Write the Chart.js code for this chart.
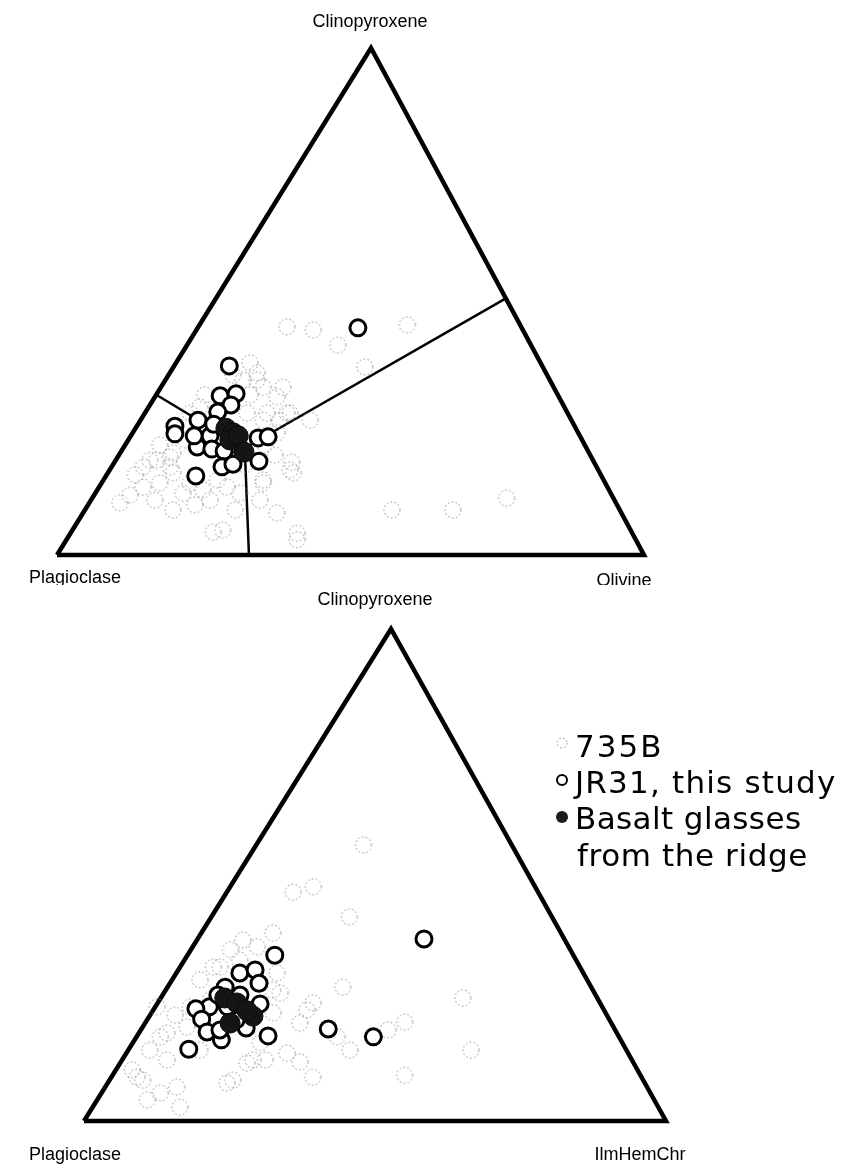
<!DOCTYPE html>
<html><head><meta charset="utf-8">
<script src="https://cdn.jsdelivr.net/npm/chart.js@4.4.0/dist/chart.umd.min.js"></script>
<style>
html,body{margin:0;padding:0;background:#fff;}
#wrap{position:relative;width:855px;height:1170px;overflow:hidden;}
.pane{position:absolute;left:0;width:855px;height:585px;}
</style></head><body>
<div id="wrap">
<div class="pane" style="top:0"><canvas id="cTop" width="855" height="585"></canvas></div>
<div class="pane" style="top:585px"><canvas id="cBot" width="855" height="585"></canvas></div>
</div>
<script>
// ---- Data: compositions as [Clinopyroxene %, third-apex %]; Plagioclase = remainder ----
const topVertexLabels = ["Plagioclase", "Olivine", "Clinopyroxene"];
const botVertexLabels = ["Plagioclase", "IlmHemChr", "Clinopyroxene"];
const legendLabels = ["735B", "JR31, this study", "Basalt glasses", "from the ridge"];

// top diagram: Plag - Ol - Cpx
const top735B = [[45.0,15.1],[44.4,19.9],[41.4,25.7],[45.4,35.4],[37.1,32.6],[35.9,14.9],[33.1,20.8],[33.1,17.4],[28.0,24.2],[26.6,28.9],
 [18.3,30.2],[16.2,31.6],[14.8,27.2],[8.3,33.0],[8.9,52.3],[8.9,62.7],[11.2,70.6],[4.3,38.6],[10.8,28.8],[10.3,5.2],
 [17.4,5.4],[18.7,7.0],[19.3,8.9],[13.4,7.5],[14.2,9.9],[12.2,14.9],[16.2,11.1],[14.2,15.1],[12.8,18.0],[14.8,19.4],
 [13.4,21.8],[12.2,24.6],[14.2,27.5],[4.9,25.6],[4.5,24.2],[8.9,15.0],[16.8,30.7],[3.0,39.3],[28.0,17.4],[26.6,20.9],
 [28.0,24.7],[24.1,24.6],[20.1,9.0],[37.9,12.6],[34.5,15.6],[31.2,20.8],[28.0,20.8],[28.0,7.7],[29.2,8.7],[34.5,13.2],
 [18.7,5.8],[17.4,10.0],[26.6,23.7],[35.5,11.0],[31.6,8.3],[22.7,9.7],[21.7,5.9],[15.8,4.9],[11.8,6.1],[10.8,10.9],
 [9.9,18.2],[17.8,22.5],[19.7,26.6],[31.6,16.0],[21.7,23.8],[10.8,20.3],[8.9,25.6]];
const topJR31 = [[37.3,9.4],[31.4,11.0],[31.8,13.5],[29.6,13.8],[28.2,12.3],[26.6,9.8],[25.4,6.5],[23.9,7.3],[23.5,13.5],[21.3,12.5],
 [20.9,15.2],[20.5,17.5],[23.1,21.9],[23.3,23.5],[18.5,24.5],[17.4,18.8],[17.9,20.4],[15.6,15.3],[44.8,27.3],[23.5,10.8],
 [25.8,12.9],[20.3,20.8]];
const topBasalt = [[25.0,15.4],[24.1,17.1],[22.7,17.3],[23.5,18.3],[20.3,21.0]];
// cotectic boundaries: junction -> edge points
const topJunction = [21.1,20.7];
const topBoundaryEnds = [[31.6,0.0],[50.6,49.4],[0.0,32.7]];

// bottom diagram: Plag - IlmHemChr - Cpx
const bot735B = [[56.1,18.4],[46.5,11.4],[47.6,14.3],[41.5,23.7],[27.2,30.1],[24.0,26.7],[25.0,51.9],[38.2,12.3],[36.8,7.9],[35.4,11.1],
 [34.8,6.8],[31.3,5.7],[28.7,4.8],[23.2,6.0],[17.9,4.8],[14.4,3.7],[8.3,5.7],[5.7,10.1],[2.8,15.0],[8.3,21.2],
 [12.4,22.5],[13.8,27.6],[19.9,26.6],[22.6,26.4],[17.1,34.5],[8.9,34.6],[26.6,18.4],[30.1,17.3],[23.2,0.3],[17.1,4.1],
 [12.4,7.7],[8.9,4.4],[4.3,8.6],[6.9,12.3],[7.7,20.5],[11.8,21.8],[15.9,21.9],[19.1,7.6],[31.3,6.9],[22.0,20.9],
 [26.0,20.0],[10.4,2.8],[14.4,58.9],[18.5,42.5],[20.1,44.5],[9.3,50.2],[12.0,30.8],[14.4,38.1],[24.6,8.7],[32.7,9.5],
 [12.4,24.6],[14.4,12.3],[21.5,4.3]];
const botJR31 = [[33.7,15.0],[30.1,10.9],[30.7,13.2],[28.0,15.3],[25.6,13.3],[23.8,17.7],[27.2,9.9],[23.2,9.3],[22.8,7.2],[20.7,9.3],
 [18.1,11.6],[16.5,14.9],[18.9,17.9],[17.3,22.5],[14.6,10.3],[18.7,32.1],[17.1,40.7],[37.0,38.9],[25.6,9.5],[23.2,12.4],
 [18.5,13.6],[20.5,15.3]];
const botBasalt = [[25.0,11.0],[24.0,13.6],[21.3,17.8],[19.9,14.6],[22.4,16.2]];

// ---- layout (vertex pixel positions of each panel, canvas-relative) ----
const panels = {
  top: {L:[57,555], R:[644,555], A:[371,48]},
  bot: {L:[84,536], R:[666,536], A:[391,44]}
};

function skewOf(p){ return (p.A[0]-p.L[0])/(p.R[0]-p.L[0]); }
function tern(p, cpx, third){ return {x: third + cpx*skewOf(p), y: cpx}; }
function pts(p, arr){ return arr.map(a => tern(p, a[0], a[1])); }

function makeDashed(r){
  const c = document.createElement('canvas');
  const s = Math.ceil(r*2+4); c.width = s; c.height = s;
  const g = c.getContext('2d');
  g.strokeStyle = '#8a8a8a'; g.lineWidth = 1; g.setLineDash([1.6,2.4]);
  g.beginPath(); g.arc(s/2, s/2, r, 0, Math.PI*2); g.stroke();
  return c;
}
const dashedPt = makeDashed(8);
const dashedLeg = makeDashed(5);

function labelsPlugin(id, items, legend){
  return {
    id: id,
    afterDraw(chart){
      const ctx = chart.ctx;
      ctx.save();
      ctx.fillStyle = '#000';
      ctx.textAlign = 'center'; ctx.textBaseline = 'middle';
      ctx.font = '18px "Liberation Sans", Arial, sans-serif';
      items.forEach(it => ctx.fillText(it.t, it.x, it.y));
      if (legend){
        ctx.textAlign = 'left'; ctx.textBaseline = 'alphabetic';
        ctx.font = '31px "DejaVu Sans", sans-serif';
        const x0 = 575, ys = [172, 208, 244, 281], sp = ['2px','1.2px','0.4px','0.6px'];
        legendLabels.forEach((t,i) => { try { ctx.letterSpacing = sp[i]; } catch(e){} ctx.fillText(t, i===3 ? x0+2 : x0, ys[i]); });
        try { ctx.letterSpacing = '0px'; } catch(e){}
        ctx.drawImage(dashedLeg, 562 - dashedLeg.width/2, 158 - dashedLeg.height/2);
        ctx.beginPath(); ctx.arc(562, 195, 5, 0, Math.PI*2);
        ctx.fillStyle = '#fff'; ctx.fill(); ctx.lineWidth = 2; ctx.strokeStyle = '#000'; ctx.stroke();
        ctx.beginPath(); ctx.arc(562, 232, 6, 0, Math.PI*2);
        ctx.fillStyle = '#1c1c1c'; ctx.fill();
      }
      ctx.restore();
    }
  };
}

function build(canvasId, p, d, labels, legend){
  const W = 855, H = 585;
  const tri = [[0,0],[0,100],[100,0],[0,0]].map(a => tern(p, a[0], a[1]));
  const datasets = [
    {type:'scatter', label:'Basalt glasses from the ridge', data: pts(p, d.basalt), pointStyle:'circle', pointRadius:10,
     backgroundColor:'#151515', borderColor:'#0a0a0a', borderWidth:1, order:0, clip:false},
    {type:'scatter', label:'JR31, this study', data: pts(p, d.jr31), pointStyle:'circle', pointRadius:8,
     backgroundColor:'#fff', borderColor:'#000', borderWidth:3, order:1, clip:false},
    {type:'scatter', label:'735B', data: pts(p, d.b735), pointStyle: dashedPt, pointRadius:8, order:2, clip:false},
    {type:'line', label:'triangle', data: tri, borderColor:'#000', borderWidth:4.5, pointRadius:0,
     borderJoinStyle:'miter', fill:false, tension:0, order:4, clip:false}
  ];
  if (d.junction){
    d.ends.forEach(e => datasets.push({type:'line', label:'boundary', data:[tern(p, d.junction[0], d.junction[1]), tern(p, e[0], e[1])],
      borderColor:'#000', borderWidth:2.5, pointRadius:0, order:3, clip:false}));
  }
  return new Chart(document.getElementById(canvasId), {
    data: {datasets},
    options: {
      responsive:false, animation:false, devicePixelRatio:1,
      layout:{padding:{left:p.L[0], right:W-p.R[0], top:p.A[1], bottom:H-p.L[1]}},
      scales:{
        x:{type:'linear', min:0, max:100, display:false},
        y:{type:'linear', min:0, max:100, display:false}
      },
      plugins:{legend:{display:false}, tooltip:{enabled:false}}
    },
    plugins:[labelsPlugin(canvasId+'lbl', labels, legend)]
  });
}

build('cTop', panels.top, {basalt:topBasalt, jr31:topJR31, b735:top735B, junction:topJunction, ends:topBoundaryEnds},
  [{t:topVertexLabels[2], x:370, y:22},{t:topVertexLabels[0], x:75, y:578},{t:topVertexLabels[1], x:624, y:581}], false);
build('cBot', panels.bot, {basalt:botBasalt, jr31:botJR31, b735:bot735B},
  [{t:botVertexLabels[2], x:375, y:15},{t:botVertexLabels[0], x:75, y:570},{t:botVertexLabels[1], x:640, y:570}], true);
</script>
</body></html>
